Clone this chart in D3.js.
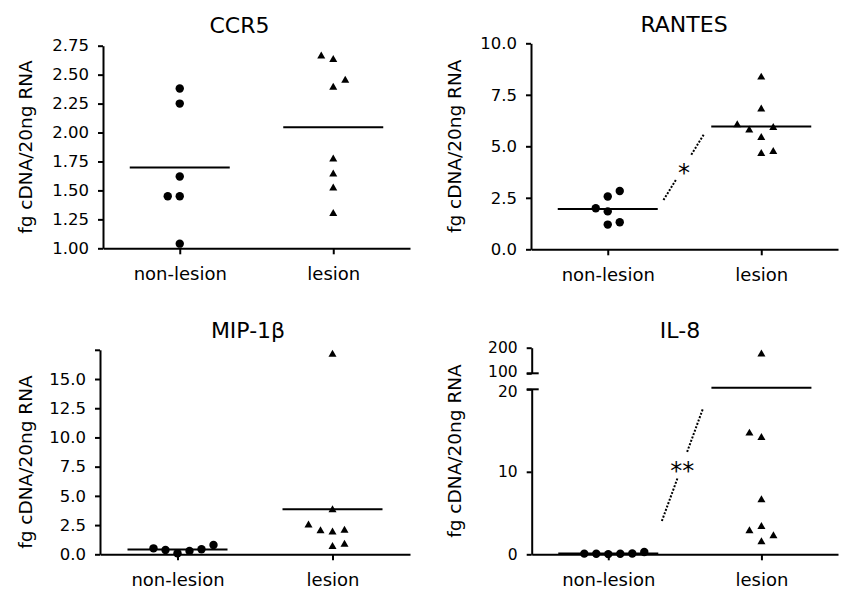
<!DOCTYPE html>
<html>
<head>
<meta charset="utf-8">
<script src="https://cdn.jsdelivr.net/npm/d3@7"></script>
<style>
  body { margin: 0; background: #fff; }
  svg text { font-family: "DejaVu Sans", sans-serif; fill: #000; }
</style>
</head>
<body>
<div id="chart"></div>
<script>
// groups on the x axis
let groups = ["non-lesion", "lesion"];

// fg cDNA / 20ng RNA
let ccr5NonLesion = [2.38, 2.25, 1.62, 1.45, 1.45, 1.04];
let ccr5Lesion = [2.66, 2.63, 2.45, 2.39, 1.77, 1.64, 1.52, 1.3];
let rantesNonLesion = [2.83, 2.56, 1.99, 1.84, 1.31, 1.2];
let rantesLesion = [8.35, 6.8, 6.04, 5.78, 5.91, 5.42, 4.64, 4.74];
let mipNonLesion = [0.51, 0.37, 0.09, 0.29, 0.43, 0.8];
let mipLesion = [17.1, 3.8, 2.5, 2.0, 1.9, 2.05, 0.65, 0.85];
let il8NonLesion = [0.08, 0.06, 0.02, 0.07, 0.09, 0.28];
let il8Lesion = [175, 14.67, 14.14, 6.59, 2.83, 3.35, 2.22, 1.5];

// tick values and labels
let ccr5Ticks = [1, 1.25, 1.5, 1.75, 2, 2.25, 2.5, 2.75];
let ccr5TickLabels = ["1.00", "1.25", "1.50", "1.75", "2.00", "2.25", "2.50", "2.75"];
let rantesTicks = [0, 2.5, 5, 7.5, 10];
let rantesTickLabels = ["0.0", "2.5", "5.0", "7.5", "10.0"];
let mipTicks = [0, 2.5, 5, 7.5, 10, 12.5, 15, 17.5];
let mipTickLabels = ["0.0", "2.5", "5.0", "7.5", "10.0", "12.5", "15.0", ""];
let il8LowTicks = [0, 10, 20];
let il8LowTickLabels = ["0", "10", "20"];
let il8HighTicks = [100, 200];
let il8HighTickLabels = ["100", "200"];

// horizontal dodge slots so overlapping points sit side by side
let ccr5NonSlots = [0, 0, 0, -1, 0, 0];
let ccr5LesSlots = [-1, 0, 1, 0, 0, 0, 0, 0];
let rantesNonSlots = [1, 0, -1, 0, 1, 0];
let rantesLesSlots = [0, 0, -2, -1, 1, 0, 0, 1];
let mipNonSlots = [-2, -1, 0, 1, 2, 3];
let mipLesSlots = [0, 0, -2, -1, 0, 1, 0, 1];
let il8NonSlots = [-2, -1, 0, 1, 2, 3];
let il8LesSlots = [0, -1, 0, 0, -1, 0, 1, 0];

let yLabel = "fg cDNA/20ng RNA";

let svg = d3
  .select("#chart")
  .append("svg")
  .attr("width", 842)
  .attr("height", 590);

let panels = [
  {
    title: "CCR5", non: ccr5NonLesion, les: ccr5Lesion,
    nonSlots: ccr5NonSlots, lesSlots: ccr5LesSlots,
    left: 103, right: 410, titleX: 239.5, titleY: 32.7, labelX: 31.5, labelShift: 0,
    segments: [{ domain: [1, 2.75], range: [248.3, 45.7], ticks: ccr5Ticks, labels: ccr5TickLabels }],
  },
  {
    title: "RANTES", non: rantesNonLesion, les: rantesLesion,
    nonSlots: rantesNonSlots, lesSlots: rantesLesSlots,
    left: 531, right: 838, titleX: 684, titleY: 31.7, labelX: 461, labelShift: 0,
    segments: [{ domain: [0, 10], range: [249.3, 43.3], ticks: rantesTicks, labels: rantesTickLabels }],
    sig: { from: 2.39, to: 5.63, fx0: 0.363, fx1: 0.63, text: "*" },
  },
  {
    title: "MIP-1β", non: mipNonLesion, les: mipLesion,
    nonSlots: mipNonSlots, lesSlots: mipLesSlots,
    left: 100, right: 410, titleX: 248, titleY: 338.3, labelX: 31.5, labelShift: 10,
    segments: [{ domain: [0, 17.5], range: [554.3, 349.8], ticks: mipTicks, labels: mipTickLabels }],
  },
  {
    title: "IL-8", non: il8NonLesion, les: il8Lesion,
    nonSlots: il8NonSlots, lesSlots: il8LesSlots,
    left: 531.7, right: 838, titleX: 680, titleY: 338.3, labelX: 461, labelShift: 0,
    segments: [
      { domain: [0, 20], range: [554.3, 389.3], ticks: il8LowTicks, labels: il8LowTickLabels },
      { domain: [100, 200], range: [373.3, 347.7], ticks: il8HighTicks, labels: il8HighTickLabels },
    ],
    sig: { from: 4.04, to: 17.6, fx0: 0.35, fx1: 0.617, text: "**" },
  },
];

let drawPanel = (p) => {
  let g = svg.append("g");
  let segs = p.segments;
  let broken = segs.length > 1;
  let bottom = segs[0].range[0];
  let top = segs[segs.length - 1].range[1];

  // piecewise y scale over all axis segments
  let y = d3
    .scaleLinear()
    .domain(segs.flatMap((s) => s.domain))
    .range(segs.flatMap((s) => s.range));

  let x = d3.scalePoint().domain(groups).range([p.left, p.right]).padding(0.5);

  // y axis, one piece per segment
  segs.forEach((s, i) => {
    let segScale = d3.scaleLinear().domain(s.domain).range(s.range);
    let ax = g
      .append("g")
      .attr("transform", `translate(${p.left},0)`)
      .call(
        d3
          .axisLeft(segScale)
          .tickValues(s.ticks)
          .tickFormat((d, j) => s.labels[j])
          .tickSize(5)
          .tickSizeOuter(0)
          .tickPadding(9)
      );
    ax.selectAll("path, line").attr("stroke", "#000").attr("stroke-width", 2);
    ax.selectAll("text")
      .attr("font-family", "DejaVu Sans")
      .attr("font-size", broken ? 15.5 : 16.5);

    if (broken) {
      // labels next to the break are pushed apart a little
      let edge = i === 0 ? s.domain[1] : s.domain[0];
      ax.selectAll(".tick")
        .filter((d) => d === edge)
        .select("text")
        .attr("y", i === 0 ? 2 : -2);

      // axis-break marks poke out to the right
      let breakY = segScale(edge);
      g.append("line")
        .attr("x1", p.left - 5)
        .attr("x2", p.left + 7)
        .attr("y1", breakY)
        .attr("y2", breakY)
        .attr("stroke", "#000")
        .attr("stroke-width", 2);
    }
  });

  // x axis
  let xa = g
    .append("g")
    .attr("transform", `translate(0,${bottom})`)
    .call(d3.axisBottom(x).tickSize(6).tickSizeOuter(0).tickPadding(12.5));
  xa.selectAll("path, line").attr("stroke", "#000").attr("stroke-width", 2);
  xa.selectAll("text")
    .attr("font-family", "DejaVu Sans")
    .attr("font-size", 18);

  // title
  g.append("text")
    .attr("x", p.titleX)
    .attr("y", p.titleY)
    .attr("text-anchor", "middle")
    .attr("font-size", 22)
    .text(p.title);

  // y label
  let cy = (top + bottom) / 2 + p.labelShift;
  g.append("text")
    .attr("transform", `translate(${p.labelX},${cy}) rotate(-90)`)
    .attr("text-anchor", "middle")
    .attr("font-size", 18.5)
    .text(yLabel);

  let slotW = 12;

  // points
  g.selectAll(".dot")
    .data(p.non)
    .join("circle")
    .attr("cx", (d, i) => x(groups[0]) + p.nonSlots[i] * slotW)
    .attr("cy", (d) => y(d))
    .attr("r", 4.2)
    .attr("fill", "#000");

  let tri = d3.symbol().type(d3.symbolTriangle).size(28);
  g.selectAll(".tri")
    .data(p.les)
    .join("path")
    .attr("d", tri)
    .attr("transform", (d, i) => `translate(${x(groups[1]) + p.lesSlots[i] * slotW},${y(d)})`)
    .attr("fill", "#000");

  // mean lines
  [p.non, p.les].forEach((vals, i) => {
    let m = d3.mean(vals);
    let cx = x(groups[i]);
    g.append("line")
      .attr("x1", cx - 50)
      .attr("x2", cx + 50)
      .attr("y1", y(m))
      .attr("y2", y(m))
      .attr("stroke", "#000")
      .attr("stroke-width", 2);
  });

  // significance marker
  if (p.sig) {
    let x0 = x(groups[0]);
    let span = x(groups[1]) - x0;
    let ax0 = x0 + span * p.sig.fx0;
    let ax1 = x0 + span * p.sig.fx1;
    let ay0 = y(p.sig.from);
    let ay1 = y(p.sig.to);
    let len = Math.hypot(ax1 - ax0, ay1 - ay0);
    let gap = 14 / len;
    let mx = (ax0 + ax1) / 2;
    let my = (ay0 + ay1) / 2;
    [
      [0, 0.5 - gap],
      [0.5 + gap, 1],
    ].forEach(([t0, t1]) => {
      g.append("line")
        .attr("x1", ax0 + (ax1 - ax0) * t0)
        .attr("y1", ay0 + (ay1 - ay0) * t0)
        .attr("x2", ax0 + (ax1 - ax0) * t1)
        .attr("y2", ay0 + (ay1 - ay0) * t1)
        .attr("stroke", "#000")
        .attr("stroke-width", 2)
        .attr("stroke-dasharray", "2,1.6");
    });
    g.append("text")
      .attr("x", mx)
      .attr("y", my + 14)
      .attr("text-anchor", "middle")
      .attr("font-size", 24)
      .text(p.sig.text);
  }
};

panels.forEach(drawPanel);
</script>
</body>
</html>
